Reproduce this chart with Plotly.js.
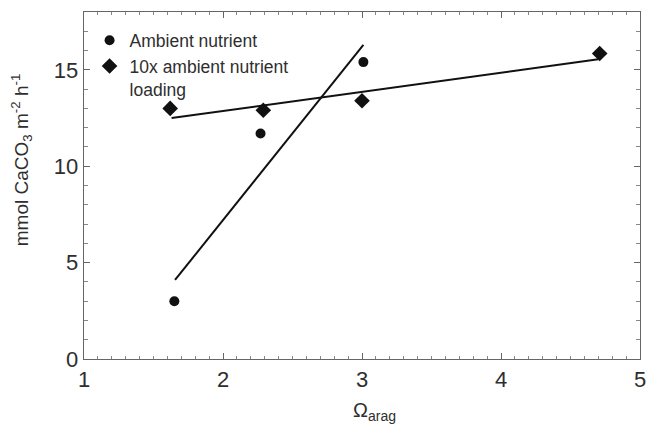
<!DOCTYPE html>
<html>
<head>
<meta charset="utf-8">
<script src="https://cdn.plot.ly/plotly-3.0.1.min.js"></script>
<style>html,body{margin:0;padding:0;background:#fff;}#chart{width:649px;height:426px;}</style>
</head>
<body>
<div id="chart"></div>
<script>
// Ambient nutrient observations
const ambientOmega = [1.65, 2.27, 3.01];
const ambientCalc = [3.0, 11.7, 15.4];
// 10x ambient nutrient loading observations
const loadedOmega = [1.62, 2.29, 3.0, 4.71];
const loadedCalc = [13.0, 12.9, 13.4, 15.85];
// Fitted lines (endpoints)
const ambientFitOmega = [1.655, 3.01];
const ambientFitCalc = [4.1, 16.3];
const loadedFitOmega = [1.63, 4.7];
const loadedFitCalc = [12.5, 15.55];
// Axis ticks and labels
const xTicks = [1, 2, 3, 4, 5];
const yTicks = [0, 5, 10, 15];
const seriesNames = ['Ambient nutrient', '10x ambient nutrient<br>loading'];
const xTitle = 'Ω<sub>arag</sub>';
const yTitle = 'mmol CaCO<sub>3</sub> m<sup>-2</sup> h<sup>-1</sup>';

const ink = '#2e2e2e';
const fam = 'Liberation Sans, Arial, sans-serif';
const traces = [
  {x: ambientFitOmega, y: ambientFitCalc, mode: 'lines', line: {color: '#111', width: 2}, showlegend: false, hoverinfo: 'skip'},
  {x: loadedFitOmega, y: loadedFitCalc, mode: 'lines', line: {color: '#111', width: 2}, showlegend: false, hoverinfo: 'skip'},
  {x: ambientOmega, y: ambientCalc, mode: 'markers', name: seriesNames[0],
   marker: {symbol: 'circle', size: 10, color: '#111'}},
  {x: loadedOmega, y: loadedCalc, mode: 'markers', name: seriesNames[1],
   marker: {symbol: 'diamond', size: 12, color: '#111'}}
];

const axisCommon = {
  showline: true, linecolor: '#666', linewidth: 1.3, mirror: 'ticks',
  ticks: 'inside', tickcolor: '#666', tickwidth: 1, ticklen: 6,
  showgrid: false, zeroline: false,
  tickfont: {family: fam, size: 22, color: ink}
};

const layout = {
  width: 649, height: 426,
  margin: {l: 84, r: 9, t: 12, b: 67},
  paper_bgcolor: '#fff', plot_bgcolor: '#fff',
  font: {family: fam, color: ink},
  xaxis: Object.assign({}, axisCommon, {
    range: [1, 5], tickvals: xTicks, ticktext: xTicks.map(String),
    minor: {dtick: 0.1, ticks: 'inside', ticklen: 3, tickcolor: '#888', showgrid: false}
  }),
  yaxis: Object.assign({}, axisCommon, {
    range: [0, 18], tickvals: yTicks, ticktext: yTicks.map(String),
    minor: {dtick: 1, ticks: 'inside', ticklen: 4, tickcolor: '#888', showgrid: false}
  }),
  annotations: [{
    text: yTitle, textangle: -90, showarrow: false,
    xref: 'paper', yref: 'paper', x: -0.112, y: 0.575,
    xanchor: 'center', yanchor: 'middle',
    font: {family: fam, size: 19, color: ink}
  }, {
    text: xTitle, showarrow: false,
    xref: 'paper', yref: 'paper', x: 0.523, y: -0.152,
    xanchor: 'center', yanchor: 'middle',
    font: {family: fam, size: 20, color: ink}
  }],
  legend: {
    x: 0.01, y: 0.97, xanchor: 'left', yanchor: 'top',
    bgcolor: 'rgba(0,0,0,0)', borderwidth: 0,
    font: {family: fam, size: 17.5, color: ink}, valign: 'top', tracegroupgap: 0
  },
  showlegend: true
};

Plotly.newPlot('chart', traces, layout, {displayModeBar: false, staticPlot: true});
</script>
</body>
</html>
